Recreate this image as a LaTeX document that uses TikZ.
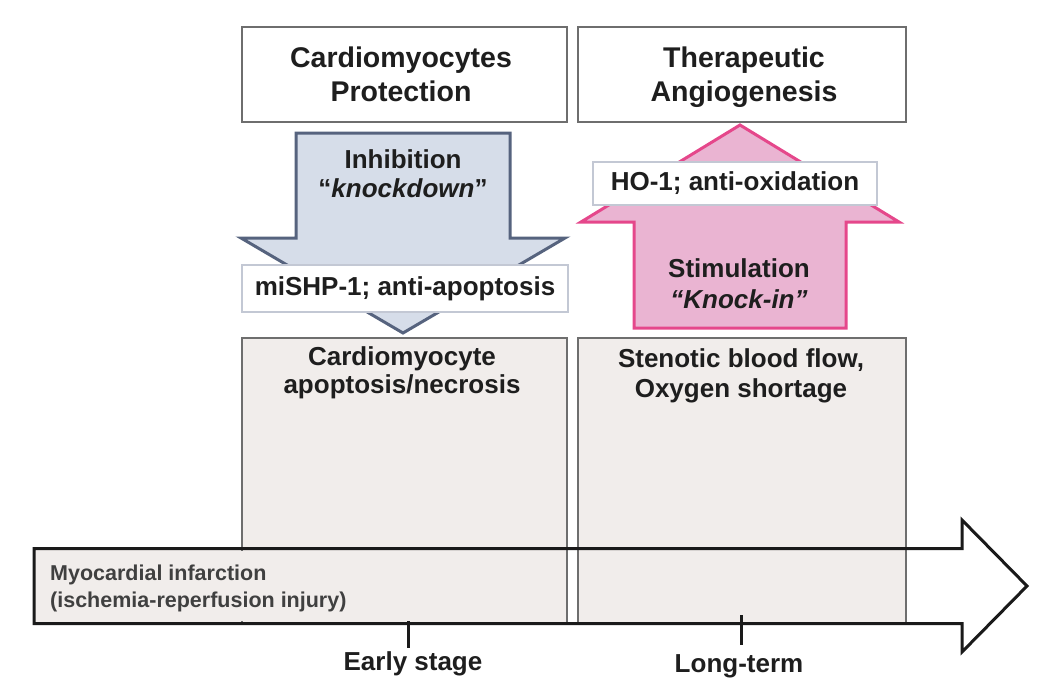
\documentclass[tikz,border=0pt]{standalone}
\usepackage{fontspec}
\setmainfont{Liberation Sans}
\definecolor{boxgray}{HTML}{F1EDEB}
\definecolor{edgegray}{HTML}{6E6E6E}
\definecolor{bluefill}{HTML}{D6DDE9}
\definecolor{blueedge}{HTML}{56637E}
\definecolor{pinkfill}{HTML}{EAB4D2}
\definecolor{pinkedge}{HTML}{E5478B}
\definecolor{lbledge}{HTML}{C3C8D4}
\definecolor{ink}{HTML}{1E1E1E}
\definecolor{axisink}{HTML}{1A1A1A}
\begin{document}
\begin{tikzpicture}[x=1pt,y=-1pt,
  txt/.style={anchor=base,inner sep=0pt,text=ink,font=\fontsize{26}{30}\selectfont\bfseries},
  ttl/.style={txt,font=\fontsize{28.5}{33}\selectfont\bfseries},
  small/.style={anchor=base west,inner sep=0pt,text=ink!85,font=\fontsize{21.5}{26}\selectfont\bfseries},
  frame/.style={draw=edgegray,line width=2.5pt,inner sep=0pt},
  lbl/.style={draw=lbledge,line width=1.2pt,fill=white,inner sep=0pt,text=ink,
    font=\fontsize{26}{30}\selectfont\bfseries,text height=19pt,text depth=5.5pt},
  tick/.style={draw=axisink,line width=3pt}
]
\useasboundingbox (0,0) rectangle (1050,693);

% time axis arrow (fill)
\fill[white] (34,548.5) -- (962,548.5) -- (962,520) -- (1027,586) -- (962,652) -- (962,623.5) -- (34,623.5) -- cycle;
\fill[boxgray] (34,548.5) rectangle (242,623.5);

% bottom boxes
\node[frame,fill=boxgray,minimum width=325pt,minimum height=285pt] (apop) at (404.5,480.5) {};
\node[frame,fill=boxgray,minimum width=328pt,minimum height=285pt] (steno) at (742,480.5) {};
\draw[boxgray,line width=3pt] (242,551) -- (242,621);

% time axis arrow (outline)
\draw[axisink,line width=3pt,line join=miter] (34,548.5) -- (962,548.5) -- (962,520) -- (1027,586) -- (962,652) -- (962,623.5) -- (34,623.5) -- cycle;
\draw[tick] (408,621) -- (408,648);
\draw[tick] (741,615) -- (741,645);

% top boxes
\node[frame,fill=white,minimum width=325pt,minimum height=95pt] (prot) at (404.5,74.5) {};
\node[frame,fill=white,minimum width=328pt,minimum height=95pt] (angio) at (742,74.5) {};

% blue down arrow
\draw[blueedge,fill=bluefill,line width=3pt,line join=miter]
  (296,133) -- (510,133) -- (510,238) -- (565,238) -- (403,333) -- (241,238) -- (296,238) -- cycle;
% pink up arrow
\draw[pinkedge,fill=pinkfill,line width=3pt,line join=miter]
  (634,328) -- (846,328) -- (846,222) -- (899,222) -- (740,125) -- (581,222) -- (634,222) -- cycle;

% label boxes
\node[lbl,minimum width=326pt,minimum height=47pt] (mishp) at (405,288.5) {miSHP-1; anti-apoptosis};
\node[lbl,minimum width=284pt,minimum height=43pt] (ho1) at (735,183.5) {HO-1; anti-oxidation};

% texts
\node[ttl] (prot1) at (401,68) {Cardiomyocytes};
\node[ttl] (prot2) at (401,101) {Protection};
\node[ttl] (angio1) at (744,68) {Therapeutic};
\node[ttl] (angio2) at (744,101) {Angiogenesis};

\node[txt] (inh1) at (403,168) {Inhibition};
\node[txt] (inh2) at (403,197) {“\textit{knockdown}”};
\node[txt] (stim1) at (739,277) {Stimulation};
\node[txt] (stim2) at (739,308) {\itshape “Knock-in”};

\node[txt] (apop1) at (402,365) {Cardiomyocyte};
\node[txt] (apop2) at (402,393) {apoptosis/necrosis};
\node[txt] (steno1) at (741,367) {Stenotic blood flow,};
\node[txt] (steno2) at (741,397) {Oxygen shortage};

\node[small] (mi1) at (50,580) {Myocardial infarction};
\node[small] (mi2) at (50,607) {(ischemia-reperfusion injury)};

\node[txt] (early) at (413,670) {Early stage};
\node[txt] (long) at (739,672) {Long-term};
\end{tikzpicture}
\end{document}
